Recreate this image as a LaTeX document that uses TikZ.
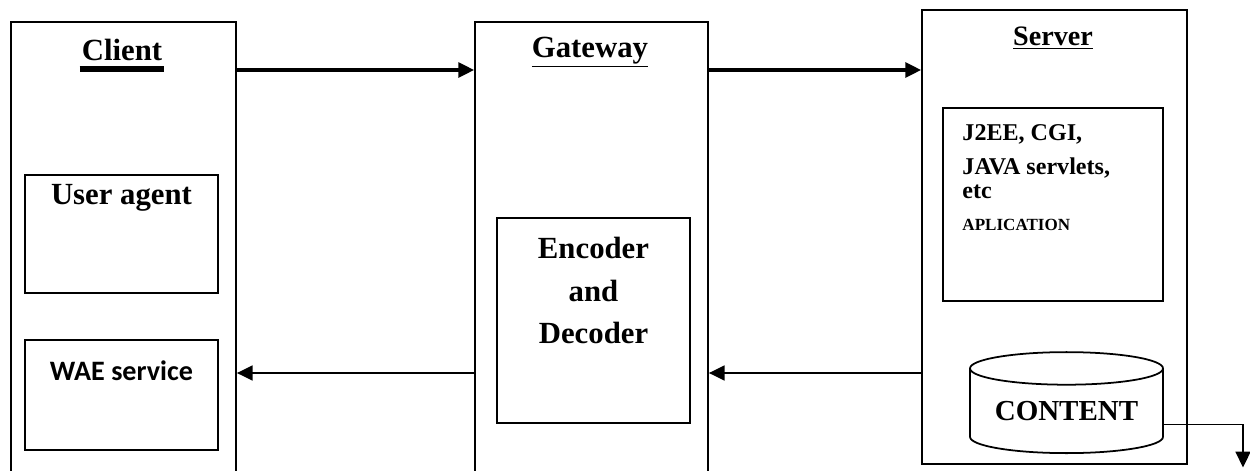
\documentclass[tikz,border=0pt]{standalone}
\usepackage{fontspec}
\setmainfont{Liberation Serif}
\newfontfamily\calibri{Carlito}
\usetikzlibrary{shapes.geometric, arrows.meta, calc}
\tikzstyle{tier} = [rectangle, draw, line width=1pt]
\tikzstyle{inbox} = [rectangle, draw, line width=1pt]
\tikzstyle{title} = [font=\bfseries\fontsize{17.5}{20}\selectfont, inner sep=1pt]
\tikzstyle{flow} = [line width=1.9pt, -{Triangle[length=9pt,width=8.5pt]}]
\tikzstyle{back} = [line width=1.1pt, -{Triangle[length=9pt,width=8.5pt]}]

\begin{document}
\begin{tikzpicture}
    \useasboundingbox (0,0) rectangle (25,9.4);
    \clip (0,0) rectangle (25,9.4);

    % Client side
    \node (client) at (2.47,4.33) [tier, minimum width=4.5cm, minimum height=9.26cm] {};
    \node (clientT) at (2.44,8.4) [title] {Client};
    \draw[line width=3.2pt] ([yshift=-3.5pt]clientT.south west) -- ([yshift=-3.5pt]clientT.south east);
    \node (agent) at (2.43,4.72) [inbox, minimum width=3.86cm, minimum height=2.36cm,
        label={[title, anchor=north, yshift=-4.5pt]north:User agent}] {};
    \node (wae) at (2.43,1.5) [inbox, minimum width=3.86cm, minimum height=2.2cm,
        label={[font=\calibri\bfseries\fontsize{16}{19}\selectfont, inner sep=1pt, anchor=north, yshift=-11pt]north:WAE service}] {};

    % Gateway
    \node (gateway) at (11.83,4.33) [tier, minimum width=4.66cm, minimum height=9.26cm] {};
    \node (gatewayT) at (11.8,8.36) [title] {\underline{Gateway}};
    \node (codec) at (11.87,2.99) [inbox, minimum width=3.86cm, minimum height=4.1cm,
        label={[title, font=\bfseries\fontsize{17.5}{24}\selectfont, align=center, anchor=north, yshift=-10.4pt]north:Encoder\\and\\Decoder}] {};

    % Server
    \node (server) at (21.09,4.66) [tier, minimum width=5.3cm, minimum height=9.08cm] {};
    \node (serverT) at (21.06,8.64) [title, font=\bfseries\fontsize{16}{19}\selectfont] {\underline{Server}};
    \node (app) at (21.06,5.31) [inbox, minimum width=4.4cm, minimum height=3.86cm,
        label={[anchor=north west, align=left, inner sep=0pt, xshift=0.4cm, yshift=-9.7pt,
        font=\bfseries\fontsize{13.7}{19.3}\selectfont]north west:J2EE, CGI,\\JAVA servlets,\\[-5.6pt]etc\\[-1pt]{\fontsize{9.7}{12}\selectfont APLICATION}}] {};
    \node (content) at (21.33,0.32) [cylinder, shape border rotate=90, draw, line width=1pt, anchor=south,
        minimum width=3.86cm, minimum height=2.02cm, aspect=0.21,
        font=\bfseries\fontsize{16.5}{20}\selectfont] {\raisebox{3pt}{CONTENT}};

    % Requests and replies
    \coordinate (upper) at (0,8.0);
    \coordinate (lower) at (0,1.94);
    \coordinate (exit) at (24.86,0.05);
    \draw[flow] (client.east |- upper) -- (gateway.west |- upper);
    \draw[flow] (gateway.east |- upper) -- (server.west |- upper);
    \draw[back] (server.west |- lower) -- (gateway.east |- lower);
    \draw[back] (gateway.west |- lower) -- (client.east |- lower);
    \draw[back, line width=1pt] ([yshift=-0.21cm]content.east) -| (exit);

\end{tikzpicture}
\end{document}
